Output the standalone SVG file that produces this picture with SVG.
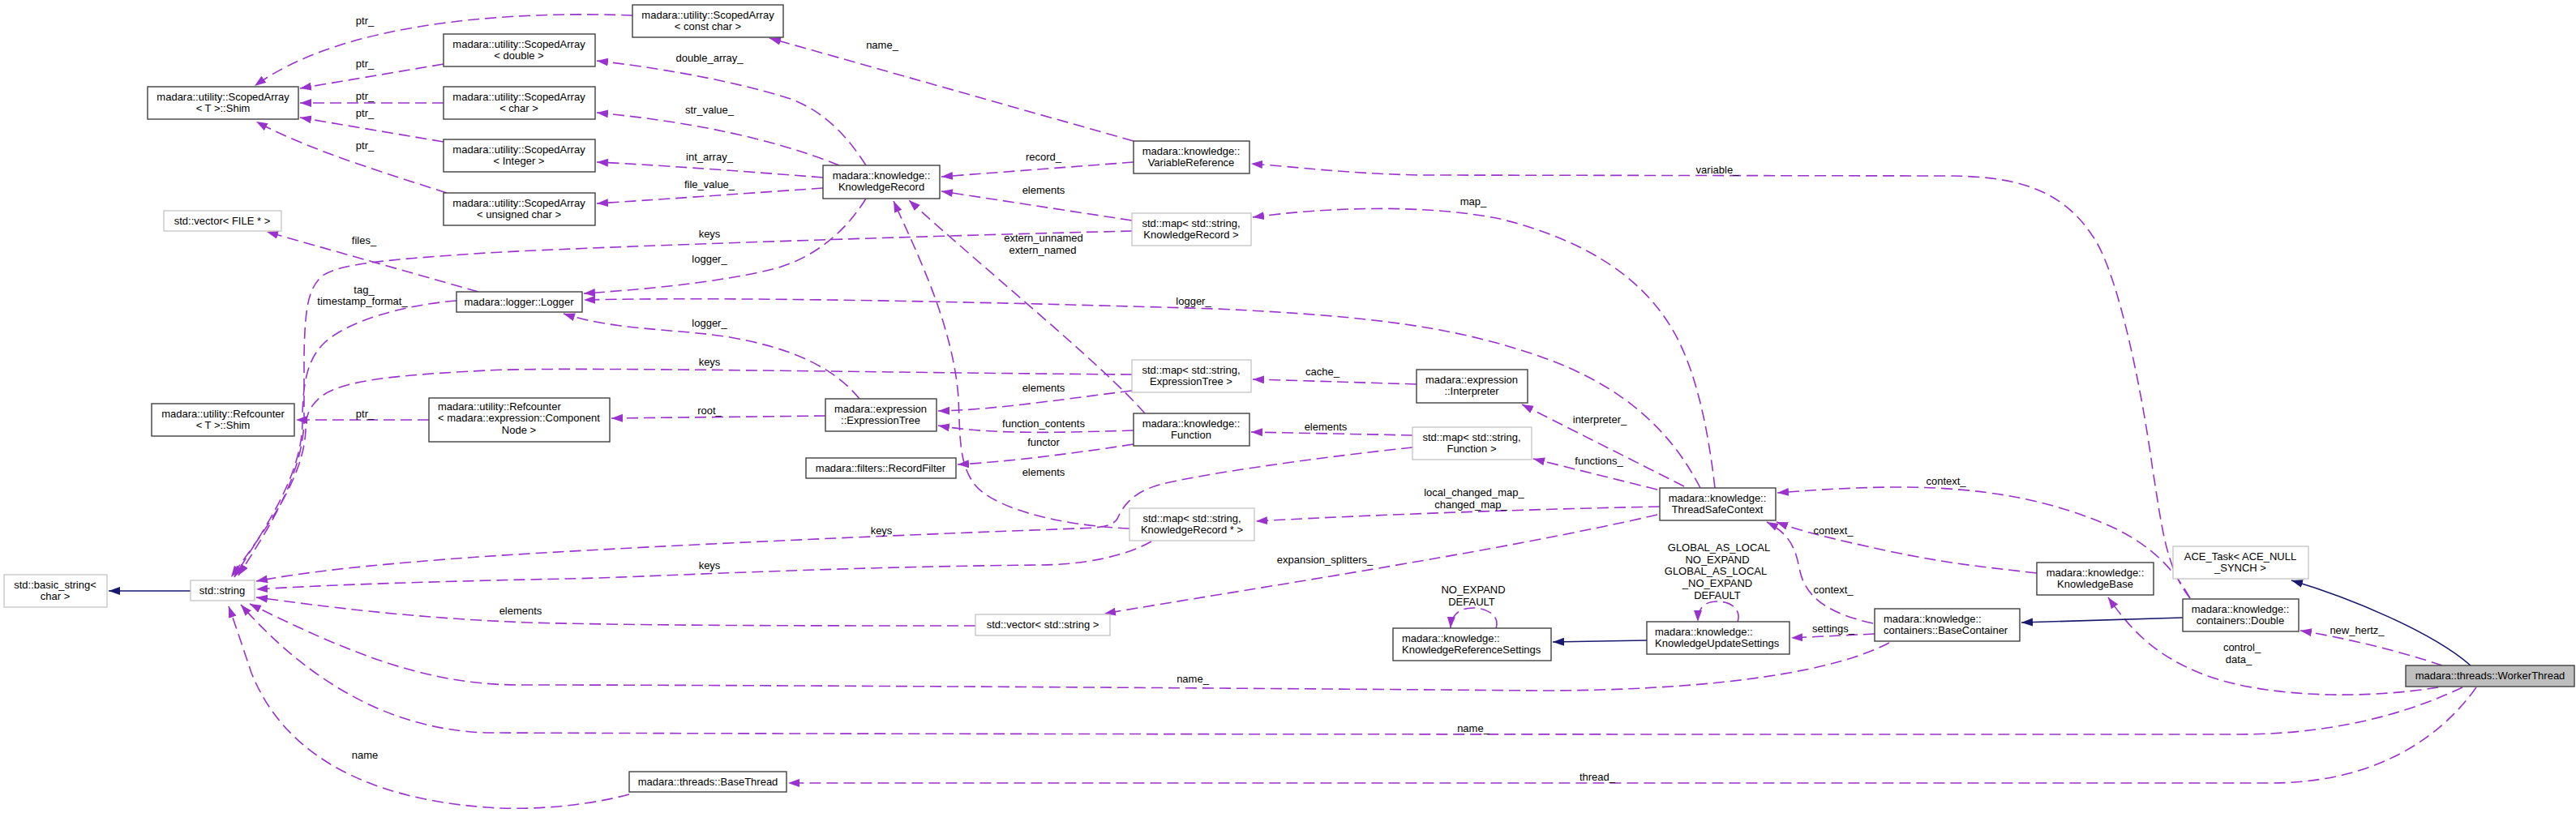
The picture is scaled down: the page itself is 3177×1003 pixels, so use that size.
<svg xmlns="http://www.w3.org/2000/svg" width="3177" height="1003" viewBox="0 0 3177 1003">
<style>
text{font-family:"Liberation Sans",Arial,sans-serif;font-size:13px;fill:#000}
.n rect{fill:#fff;stroke:#404040;stroke-width:1.4}
.g rect{fill:#fff;stroke:#bfbfbf;stroke-width:1.2}
.c{text-anchor:middle}
.l{text-anchor:start}
.e{fill:none;stroke:#9a32cd;stroke-width:1.6;stroke-dasharray:14,7;marker-end:url(#pa)}
.i{fill:none;stroke:#191970;stroke-width:1.6;marker-end:url(#na)}
.lb{text-anchor:middle}
</style>
<defs>
<marker id="pa" markerUnits="userSpaceOnUse" markerWidth="15" markerHeight="11" refX="14" refY="5" orient="auto"><path d="M0,0 L14,5 L0,10 z" fill="#9a32cd"/></marker>
<marker id="na" markerUnits="userSpaceOnUse" markerWidth="15" markerHeight="11" refX="14" refY="5" orient="auto"><path d="M0,0 L14,5 L0,10 z" fill="#191970"/></marker>
</defs>
<rect width="3177" height="1003" fill="#fff"/>
<g id="edges">
<path class="e" d="M780,19 C650,14 430,22 314,106"/>
<path class="e" d="M547,79 L370,109"/>
<path class="e" d="M547,127 L370,127"/>
<path class="e" d="M547,175 L370,145"/>
<path class="e" d="M551,238 C480,215 380,185 316,150"/>
<path class="e" d="M590,360 L329,286"/>
<path class="e" d="M563,371 C500,376 430,395 400,423 C380,442 373,470 373,520 C373,590 320,660 289,712"/>
<path class="e" d="M1396,285 C1100,292 700,306 600,312 C480,320 420,325 398,340 C380,355 376,380 375,440 L375,520 C373,590 326,660 294,710"/>
<path class="e" d="M1396,462 C1100,460 700,452 600,457 C480,463 420,470 395,490 C380,503 377,515 377,530 C375,595 318,665 285,712"/>
<path class="e" d="M529,518 L365,518"/>
<path class="e" d="M1018,513 L754,516"/>
<path class="e" d="M1068,204 C1040,160 1010,135 975,122 C900,98 800,82 736,75"/>
<path class="e" d="M1035,204 C950,170 850,150 736,139"/>
<path class="e" d="M1015,219 C900,210 800,203 736,200"/>
<path class="e" d="M1015,232 C900,240 800,247 736,251"/>
<path class="e" d="M1068,245 C1040,290 1000,320 953,332 C880,350 780,358 720,362"/>
<path class="e" d="M2097,602 C2060,530 2000,475 1900,440 C1800,405 1700,390 1500,381 C1200,372 900,366 720,370"/>
<path class="e" d="M1060,492 C1030,455 980,430 900,416 C830,405 760,408 695,387"/>
<path class="e" d="M1398,174 L949,47"/>
<path class="e" d="M1398,200 L1161,218"/>
<path class="e" d="M1396,272 L1161,236"/>
<path class="e" d="M1412,510 C1360,450 1200,320 1121,247"/>
<path class="e" d="M1393,652 C1300,648 1220,625 1200,595 C1183,570 1184,540 1182,490 C1175,400 1130,310 1102,248"/>
<path class="e" d="M1742,552 C1620,565 1480,585 1430,598 C1395,608 1385,625 1378,640 C1372,650 1355,651 1330,652 C1100,660 700,678 550,690 C450,698 380,705 316,717"/>
<path class="e" d="M1420,668 C1390,685 1340,697 1280,697 C1000,700 800,712 700,714 C500,718 400,722 316,727"/>
<path class="e" d="M1203,772 C1000,772 800,772 650,768 C500,762 400,748 316,737"/>
<path class="e" d="M2330,793 C2250,835 2080,852 1900,852 C1400,848 900,845 640,845 C520,845 420,800 308,745"/>
<path class="e" d="M3037,848 C2990,870 2900,906 2760,906 C2000,906 1200,906 600,904 C480,900 380,840 297,746"/>
<path class="e" d="M776,980 C720,995 650,1000 600,996 C450,985 350,930 310,830 C300,800 290,770 282,748"/>
<path class="e" d="M3054,848 C3010,910 2930,966 2800,966 L972,966"/>
<path class="e" d="M2701,738 C2670,700 2665,640 2655,580 C2640,470 2610,330 2580,290 C2540,230 2480,217 2400,217 L1750,216 C1660,214 1600,206 1543,202"/>
<path class="e" d="M2115,602 C2108,540 2095,470 2070,420 C2030,340 1950,295 1850,270 C1760,252 1640,255 1545,268"/>
<path class="e" d="M1747,474 C1680,472 1620,470 1545,468"/>
<path class="e" d="M2077,600 L1877,499"/>
<path class="e" d="M2044,604 L1891,566"/>
<path class="e" d="M1742,537 L1543,533"/>
<path class="e" d="M1398,531 C1300,534 1220,536 1157,525"/>
<path class="e" d="M1398,548 C1320,560 1240,570 1181,573"/>
<path class="e" d="M1396,482 C1300,494 1220,506 1157,507"/>
<path class="e" d="M2047,625 C1800,630 1600,640 1549,643"/>
<path class="e" d="M2044,635 C1850,680 1550,725 1362,757"/>
<path class="e" d="M2701,738 C2680,700 2650,670 2600,648 C2530,618 2450,600 2330,601 C2270,602 2230,605 2192,608"/>
<path class="e" d="M2512,707 C2450,700 2400,695 2330,680 C2260,665 2220,655 2191,644"/>
<path class="e" d="M2310,769 C2260,758 2228,740 2220,705 C2215,680 2210,660 2179,644"/>
<path class="e" d="M2312,782 L2209,787"/>
<path class="e" d="M3012,821 C2950,800 2880,785 2837,778"/>
<path class="e" d="M3007,848 C2920,862 2800,862 2720,833 C2660,810 2630,780 2600,737"/>
<path class="e" d="M1845,775 C1850,760 1835,750 1817,750 C1800,750 1790,758 1789,775"/>
<path class="e" d="M2143,767 C2148,752 2135,742 2118,742 C2102,742 2094,750 2094,767"/>
<path class="i" d="M2031,790 L1915,792"/>
<path class="i" d="M235,729 L134,729"/>
<path class="i" d="M2692,762 L2493,768"/>
<path class="i" d="M3047,821 C3000,780 2900,738 2826,716"/>
</g>
<g id="edge-labels" class="lb">
<text x="450" y="30">ptr_</text>
<text x="450" y="83">ptr_</text>
<text x="450" y="123">ptr_</text>
<text x="450" y="144">ptr_</text>
<text x="450" y="184">ptr_</text>
<text x="449" y="301">files_</text>
<text x="449" y="362">tag_</text>
<text x="447" y="376">timestamp_format_</text>
<text x="1088" y="60">name_</text>
<text x="875" y="76">double_array_</text>
<text x="875" y="140">str_value_</text>
<text x="875" y="198">int_array_</text>
<text x="875" y="232">file_value_</text>
<text x="1287" y="198">record_</text>
<text x="1287" y="239">elements</text>
<text x="875" y="293">keys</text>
<text x="1287" y="298">extern_unnamed</text>
<text x="1286" y="313">extern_named</text>
<text x="875" y="324">logger_</text>
<text x="1472" y="376">logger_</text>
<text x="875" y="403">logger_</text>
<text x="875" y="451">keys</text>
<text x="1287" y="483">elements</text>
<text x="2118" y="214">variable_</text>
<text x="1817" y="253">map_</text>
<text x="1631" y="463">cache_</text>
<text x="450" y="515">ptr_</text>
<text x="875" y="511">root_</text>
<text x="1287" y="527">function_contents</text>
<text x="1287" y="550">functor</text>
<text x="1287" y="587">elements</text>
<text x="1635" y="531">elements</text>
<text x="1973" y="522">interpreter_</text>
<text x="1972" y="573">functions_</text>
<text x="1818" y="612">local_changed_map_</text>
<text x="1814" y="627">changed_map_</text>
<text x="1087" y="659">keys</text>
<text x="875" y="702">keys</text>
<text x="1634" y="695">expansion_splitters_</text>
<text x="2400" y="598">context_</text>
<text x="2261" y="659">context_</text>
<text x="2261" y="732">context_</text>
<text x="2261" y="780">settings_</text>
<text x="2120" y="680">GLOBAL_AS_LOCAL</text>
<text x="2118" y="695">NO_EXPAND</text>
<text x="2116" y="709">GLOBAL_AS_LOCAL</text>
<text x="2118" y="724">_NO_EXPAND</text>
<text x="2118" y="739">DEFAULT</text>
<text x="1817" y="732">NO_EXPAND</text>
<text x="1815" y="747">DEFAULT</text>
<text x="642" y="758">elements</text>
<text x="1471" y="842">name_</text>
<text x="1817" y="903">name_</text>
<text x="450" y="936">name</text>
<text x="1970" y="963">thread_</text>
<text x="2907" y="782">new_hertz_</text>
<text x="2765" y="803">control_</text>
<text x="2761" y="818">data_</text>
</g>
<g id="sa_constchar" class="n"><rect x="780" y="6" width="186" height="40"/><text class="c" x="873" y="23">madara::utility::ScopedArray</text><text class="c" x="873" y="37">&lt; const char &gt;</text></g>
<g id="sa_double" class="n"><rect x="547" y="42" width="187" height="40"/><text class="c" x="640" y="59">madara::utility::ScopedArray</text><text class="c" x="640" y="73">&lt; double &gt;</text></g>
<g id="sa_shim" class="n"><rect x="182" y="107" width="186" height="40"/><text class="c" x="275" y="124">madara::utility::ScopedArray</text><text class="c" x="275" y="138">&lt; T &gt;::Shim</text></g>
<g id="sa_char" class="n"><rect x="547" y="107" width="187" height="40"/><text class="c" x="640" y="124">madara::utility::ScopedArray</text><text class="c" x="640" y="138">&lt; char &gt;</text></g>
<g id="sa_integer" class="n"><rect x="547" y="172" width="187" height="40"/><text class="c" x="640" y="189">madara::utility::ScopedArray</text><text class="c" x="640" y="203">&lt; Integer &gt;</text></g>
<g id="sa_uchar" class="n"><rect x="547" y="238" width="187" height="40"/><text class="c" x="640" y="255">madara::utility::ScopedArray</text><text class="c" x="640" y="269">&lt; unsigned char &gt;</text></g>
<g id="vec_file" class="g"><rect x="202" y="260" width="145" height="25"/><text class="c" x="274" y="277">std::vector&lt; FILE * &gt;</text></g>
<g id="logger" class="n"><rect x="563" y="360" width="155" height="25"/><text class="c" x="640" y="377">madara::logger::Logger</text></g>
<g id="knowledge_record" class="n"><rect x="1015" y="204" width="144" height="41"/><text class="c" x="1087" y="221">madara::knowledge::</text><text class="c" x="1087" y="235">KnowledgeRecord</text></g>
<g id="variable_reference" class="n"><rect x="1398" y="174" width="143" height="40"/><text class="c" x="1469" y="191">madara::knowledge::</text><text class="c" x="1469" y="205">VariableReference</text></g>
<g id="map_kr" class="g"><rect x="1396" y="263" width="147" height="40"/><text class="c" x="1469" y="280">std::map&lt; std::string,</text><text class="c" x="1469" y="294">KnowledgeRecord &gt;</text></g>
<g id="map_et" class="g"><rect x="1396" y="444" width="147" height="40"/><text class="c" x="1469" y="461">std::map&lt; std::string,</text><text class="c" x="1469" y="475">ExpressionTree &gt;</text></g>
<g id="rc_shim" class="n"><rect x="187" y="498" width="176" height="40"/><text class="c" x="275" y="515">madara::utility::Refcounter</text><text class="c" x="275" y="529">&lt; T &gt;::Shim</text></g>
<g id="rc_component" class="n"><rect x="529" y="491" width="223" height="54"/><text class="l" x="540" y="506">madara::utility::Refcounter</text><text class="l" x="540" y="520">&lt; madara::expression::Component</text><text class="c" x="640" y="535">Node &gt;</text></g>
<g id="expression_tree" class="n"><rect x="1018" y="492" width="137" height="40"/><text class="c" x="1086" y="509">madara::expression</text><text class="c" x="1086" y="523">::ExpressionTree</text></g>
<g id="interpreter" class="n"><rect x="1747" y="456" width="137" height="41"/><text class="c" x="1815" y="473">madara::expression</text><text class="c" x="1815" y="487">::Interpreter</text></g>
<g id="function" class="n"><rect x="1398" y="510" width="143" height="40"/><text class="c" x="1469" y="527">madara::knowledge::</text><text class="c" x="1469" y="541">Function</text></g>
<g id="record_filter" class="n"><rect x="994" y="565" width="185" height="25"/><text class="c" x="1086" y="582">madara::filters::RecordFilter</text></g>
<g id="map_fn" class="g"><rect x="1742" y="527" width="147" height="40"/><text class="c" x="1815" y="544">std::map&lt; std::string,</text><text class="c" x="1815" y="558">Function &gt;</text></g>
<g id="map_krp" class="g"><rect x="1393" y="627" width="154" height="40"/><text class="c" x="1470" y="644">std::map&lt; std::string,</text><text class="c" x="1470" y="658">KnowledgeRecord * &gt;</text></g>
<g id="thread_safe_context" class="n"><rect x="2047" y="602" width="143" height="40"/><text class="c" x="2118" y="619">madara::knowledge::</text><text class="c" x="2118" y="633">ThreadSafeContext</text></g>
<g id="basic_string" class="g"><rect x="5" y="709" width="127" height="40"/><text class="c" x="68" y="726">std::basic_string&lt;</text><text class="c" x="68" y="740">char &gt;</text></g>
<g id="std_string" class="g"><rect x="235" y="716" width="79" height="25"/><text class="c" x="274" y="733">std::string</text></g>
<g id="vec_string" class="g"><rect x="1203" y="758" width="166" height="26"/><text class="c" x="1286" y="775">std::vector&lt; std::string &gt;</text></g>
<g id="ref_settings" class="n"><rect x="1718" y="775" width="195" height="40"/><text class="l" x="1729" y="792">madara::knowledge::</text><text class="l" x="1729" y="806">KnowledgeReferenceSettings</text></g>
<g id="update_settings" class="n"><rect x="2031" y="767" width="176" height="40"/><text class="l" x="2041" y="784">madara::knowledge::</text><text class="l" x="2041" y="798">KnowledgeUpdateSettings</text></g>
<g id="base_container" class="n"><rect x="2312" y="751" width="179" height="40"/><text class="l" x="2323" y="768">madara::knowledge::</text><text class="l" x="2323" y="782">containers::BaseContainer</text></g>
<g id="knowledge_base" class="n"><rect x="2512" y="694" width="144" height="40"/><text class="c" x="2584" y="711">madara::knowledge::</text><text class="c" x="2584" y="725">KnowledgeBase</text></g>
<g id="ace_task" class="g"><rect x="2680" y="674" width="167" height="40"/><text class="c" x="2763" y="691">ACE_Task&lt; ACE_NULL</text><text class="c" x="2763" y="705">_SYNCH &gt;</text></g>
<g id="double" class="n"><rect x="2692" y="739" width="143" height="40"/><text class="c" x="2763" y="756">madara::knowledge::</text><text class="c" x="2763" y="770">containers::Double</text></g>
<g id="worker_thread" class="n"><rect x="2967" y="821" width="208" height="26" style="fill:#bfbfbf"/><text class="c" x="3071" y="838">madara::threads::WorkerThread</text></g>
<g id="base_thread" class="n"><rect x="776" y="952" width="194" height="25"/><text class="c" x="873" y="969">madara::threads::BaseThread</text></g>
</svg>
